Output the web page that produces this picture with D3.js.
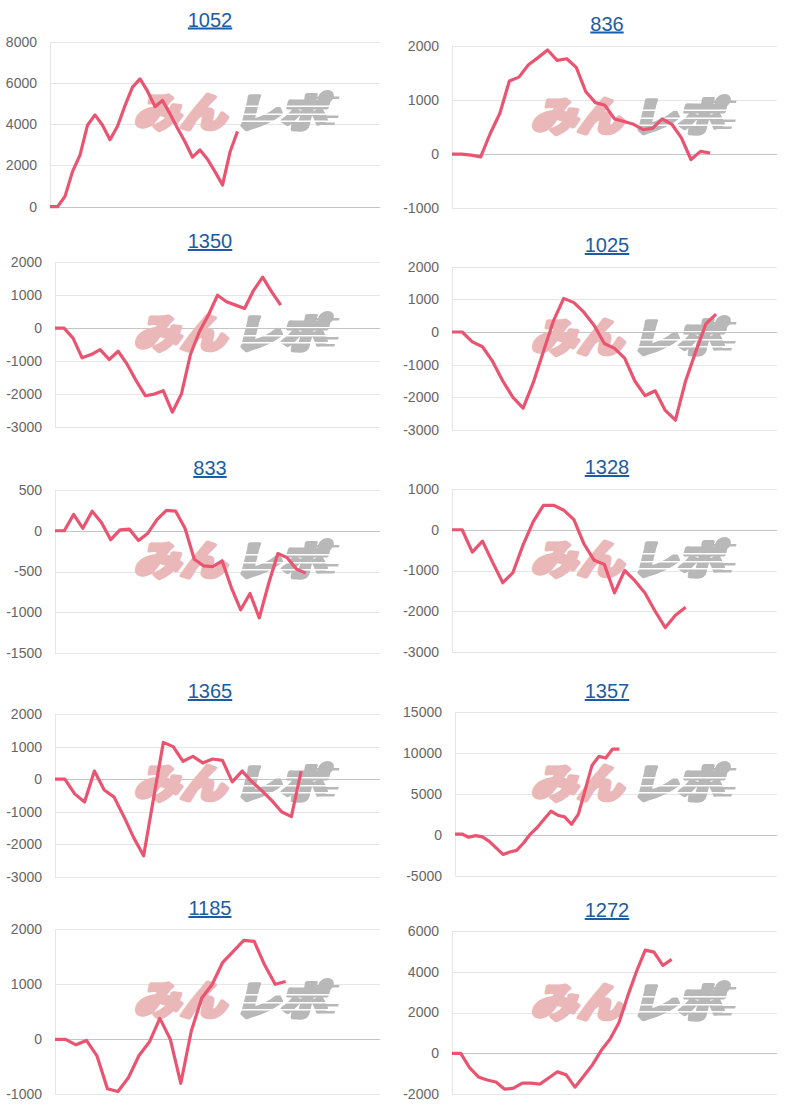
<!DOCTYPE html>
<html><head><meta charset="utf-8">
<script src="https://cdn.jsdelivr.net/npm/d3@7"></script>
<style>body{margin:0;background:#fff;} svg{display:block}</style>
</head><body>
<svg id="c" width="796" height="1110"></svg>
<script>
// ---- data ----
const titles = ["1052", "836", "1350", "1025", "833", "1328", "1365", "1357", "1185", "1272"];
const s1052 = [0, 0, 500, 1700, 2500, 3950, 4450, 3950, 3250, 3900, 4900, 5800, 6200, 5600, 4850, 5150, 4500, 3800, 3150, 2400, 2750, 2300, 1700, 1050, 2650, 3650];
const s836  = [0, 0, -20, -50, 380, 750, 1350, 1420, 1650, 1780, 1920, 1730, 1760, 1600, 1150, 950, 900, 650, 600, 550, 450, 480, 650, 550, 300, -100, 50, 20];
const s1350 = [0, 0, -300, -900, -800, -650, -950, -700, -1100, -1600, -2050, -2000, -1900, -2550, -2000, -800, -100, 400, 1000, 800, 700, 600, 1150, 1550, 1100, 700];
const s1025 = [0, 0, -300, -450, -900, -1500, -2000, -2330, -1550, -600, 350, 1030, 900, 600, 200, -350, -500, -800, -1500, -1950, -1800, -2400, -2700, -1500, -600, 250, 550];
const s833  = [0, 0, 200, 30, 240, 100, -110, 10, 20, -120, -30, 140, 250, 240, 30, -350, -430, -440, -370, -700, -970, -770, -1070, -650, -280, -330, -470, -520];
const s1328 = [0, 0, -550, -280, -800, -1300, -1050, -370, 200, 600, 600, 480, 250, -350, -750, -850, -1550, -1000, -1250, -1550, -2000, -2400, -2100, -1900];
const s1365 = [0, 0, -450, -700, 250, -330, -550, -1150, -1800, -2350, -600, 1130, 1000, 550, 700, 500, 620, 580, -80, 250, -80, -350, -650, -1000, -1150, 250];
const s1357 = [100, 100, -300, -100, -250, -800, -1600, -2400, -2100, -1900, -1000, 100, 900, 1900, 2900, 2400, 2200, 1300, 2500, 5500, 8500, 9600, 9400, 10500, 10500];
const s1185 = [0, 0, -100, -20, -300, -900, -950, -700, -300, -50, 380, 0, -800, 150, 750, 1000, 1400, 1600, 1800, 1780, 1350, 1000, 1050];
const s1272 = [0, 0, -700, -1150, -1300, -1400, -1750, -1700, -1450, -1450, -1500, -1200, -900, -1050, -1650, -1100, -550, 150, 700, 1500, 2800, 4000, 5050, 4950, 4300, 4600];
const series = [s1052, s836, s1350, s1025, s833, s1328, s1365, s1357, s1185, s1272];
const slotCounts = [45, 35, 37, 33, 36, 33, 34, 48, 32, 38];   // number of x categories per chart
const yDomains = [[0, 8000], [-1000, 2000], [-3000, 2000], [-3000, 2000], [-1500, 500],
                  [-3000, 1000], [-3000, 2000], [-5000, 15000], [-1000, 2000], [-2000, 6000]];
const yTickSteps = [2000, 1000, 1000, 1000, 500, 1000, 1000, 5000, 1000, 2000];

// ---- layout (positions only) ----
const layout = [
  {x: 0,   title: 26.5, top: 41.7,  bottom: 206.7},
  {x: 397, title: 30.5, top: 45.7,  bottom: 208.3},
  {x: 0,   title: 248,  top: 262.3, bottom: 427},
  {x: 397, title: 252,  top: 266.7, bottom: 430},
  {x: 0,   title: 475,  top: 490,   bottom: 653},
  {x: 397, title: 474,  top: 489,   bottom: 652},
  {x: 0,   title: 698,  top: 714,   bottom: 877},
  {x: 397, title: 698,  top: 712.3, bottom: 875.7},
  {x: 0,   title: 915,  top: 929.3, bottom: 1094.3},
  {x: 397, title: 917,  top: 930.7, bottom: 1094.3}
];

const svg = d3.select("#c");
const FONT = "'Liberation Sans', Arial, sans-serif";
const LINE = "#ea5470";

// mask for speed-line stripes on the watermark
const defs = svg.append("defs");
const mask = defs.append("mask").attr("id", "stripes")
  .attr("maskUnits", "userSpaceOnUse").attr("maskContentUnits", "userSpaceOnUse")
  .attr("x", -20).attr("y", -10).attr("width", 260).attr("height", 60);
mask.append("rect").attr("x", -20).attr("y", -10).attr("width", 260).attr("height", 60).attr("fill", "#fff");
[12, 20, 27].forEach(yy => mask.append("rect").attr("x", -20).attr("y", yy).attr("width", 260).attr("height", 1.5).attr("fill", "#000"));

series.forEach((data, k) => {
  const L = layout[k];
  const g = svg.append("g");
  const [d0, d1] = yDomains[k];
  const ticks = d3.range(d0, d1 + yTickSteps[k] / 2, yTickSteps[k]);

  // measure tick labels
  const probe = g.append("g").attr("font-family", FONT).attr("font-size", 14);
  let maxW = 0;
  ticks.forEach(t => {
    const tx = probe.append("text").text(String(t));
    maxW = Math.max(maxW, tx.node().getComputedTextLength());
  });
  probe.remove();

  const left = Math.round(L.x + 19 + maxW);
  const right = L.x + 380;
  const y = d3.scaleLinear().domain([d0, d1]).range([L.bottom, L.top]);
  const cats = d3.range(slotCounts[k]);
  const x = d3.scalePoint().domain(cats).range([left, right]);

  // title
  g.append("text").attr("x", L.x + 210).attr("y", L.title)
    .attr("text-anchor", "middle").attr("font-family", FONT).attr("font-size", 20)
    .attr("fill", "#1b5ca4").attr("text-decoration", "underline").text(titles[k]);

  // grid
  ticks.forEach(t => {
    const yy = Math.round(y(t)) + 0.5;
    g.append("line").attr("x1", left).attr("x2", right).attr("y1", yy).attr("y2", yy)
      .attr("stroke", t === 0 ? "#c4c4c4" : "#e6e6e6").attr("stroke-width", 1);
    g.append("text").attr("x", left - 13).attr("y", y(t)).attr("dy", "0.35em")
      .attr("text-anchor", "end").attr("font-family", FONT).attr("font-size", 14)
      .attr("fill", "#666").text(String(t));
  });
  g.append("line").attr("x1", left + 0.5).attr("x2", left + 0.5)
    .attr("y1", L.top).attr("y2", L.bottom).attr("stroke", "#e6e6e6");

  // watermark
  const wm = g.append("g").attr("transform", `translate(${L.x + 134},${L.title + 100})`);
  const wk = wm.append("g").attr("transform", "skewX(-14)");
  wk.append("text").attr("x", 0).attr("y", 0)
    .attr("font-family", "'Noto Sans CJK JP', sans-serif").attr("font-weight", 900)
    .attr("font-size", 40).attr("fill", "#ebb8ba")
    .attr("stroke", "#ebb8ba").attr("stroke-width", 4).attr("stroke-linejoin", "round")
    .attr("textLength", 92).attr("lengthAdjust", "spacingAndGlyphs").text("みん");
  const wr = wk.append("g").attr("transform", "translate(100,-33)");
  wr.append("text").attr("x", 0).attr("y", 33).attr("mask", "url(#stripes)")
    .attr("font-family", "'Noto Sans CJK JP', sans-serif").attr("font-weight", 900)
    .attr("font-size", 40).attr("fill", "#b8b8b8")
    .attr("stroke", "#b8b8b8").attr("stroke-width", 4).attr("stroke-linejoin", "round")
    .attr("textLength", 92).attr("lengthAdjust", "spacingAndGlyphs").text("レポ");
  [[72, 3, 26], [88, 22, 14], [84, 29, 16]].forEach(([rx, ry, rw]) =>
    wr.append("rect").attr("x", rx).attr("y", ry).attr("width", rw).attr("height", 2.4).attr("fill", "#b8b8b8"));

  // line
  g.append("path").datum(data)
    .attr("fill", "none").attr("stroke", LINE).attr("stroke-width", 3.2)
    .attr("stroke-linejoin", "round").attr("stroke-linecap", "butt")
    .attr("d", d3.line().x((d, i) => x(cats[i])).y(d => y(d)));
});
</script>
</body></html>
